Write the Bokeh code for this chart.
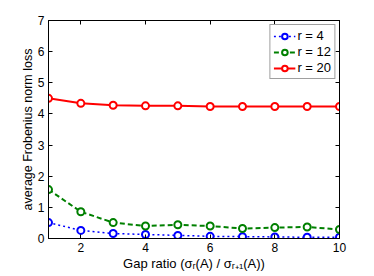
from bokeh.plotting import figure
from bokeh.models import Range1d, LinearAxis, FixedTicker, Legend
from bokeh.embed import file_html
from bokeh.resources import INLINE

gap = [1, 2, 3, 4, 5, 6, 7, 8, 9, 10]
r4 = [0.51, 0.26, 0.16, 0.13, 0.10, 0.07, 0.06, 0.05, 0.04, 0.04]
r12 = [1.57, 0.86, 0.51, 0.40, 0.44, 0.40, 0.32, 0.35, 0.37, 0.29]
r20 = [4.50, 4.34, 4.28, 4.26, 4.26, 4.24, 4.24, 4.24, 4.24, 4.24]
xticks = [2, 4, 6, 8, 10]
yticks = [0, 1, 2, 3, 4, 5, 6, 7]

FONT = "Liberation Sans"

p = figure(width=366, height=276, output_backend="svg", toolbar_location=None,
           x_range=Range1d(1, 10), y_range=Range1d(0, 7),
           min_border_left=48, min_border_right=27, min_border_top=20, min_border_bottom=38)
p.grid.visible = False
p.outline_line_color = "black"
p.outline_line_width = 1
p.background_fill_color = "white"
p.border_fill_color = "white"

for ax in (p.xaxis[0], p.yaxis[0]):
    ax.major_tick_in = 4
    ax.major_tick_out = 0
    ax.minor_tick_line_color = None
    ax.major_label_text_font = FONT
    ax.major_label_text_font_size = "12px"
    ax.major_label_text_color = "black"
    ax.axis_label_text_font = FONT
    ax.axis_label_text_font_size = "12.5px"
    ax.axis_label_text_font_style = "normal"
    ax.axis_label_text_color = "black"
    ax.axis_line_color = "black"
    ax.major_tick_line_color = "black"

p.xaxis.ticker = FixedTicker(ticks=xticks)
p.yaxis.ticker = FixedTicker(ticks=yticks)
p.xaxis.major_label_standoff = 4
p.yaxis.major_label_standoff = 4
p.xaxis.axis_label = "Gap ratio (σᵣ(A) / σᵣ₊₁(A))"
p.xaxis.axis_label_text_font_size = "13px"
p.yaxis.axis_label = "average Frobenius norm loss"
p.xaxis.axis_label_standoff = 1
p.yaxis.axis_label_standoff = 0

# box ticks on top and right
top = LinearAxis(ticker=FixedTicker(ticks=xticks), major_tick_in=4, major_tick_out=0,
                 minor_tick_line_color=None, major_label_text_font_size="0px",
                 major_label_text_alpha=0, axis_line_color="black")
right = LinearAxis(ticker=FixedTicker(ticks=yticks), major_tick_in=4, major_tick_out=0,
                   minor_tick_line_color=None, major_label_text_font_size="0px",
                   major_label_text_alpha=0, axis_line_color="black")
p.add_layout(top, "above")
p.add_layout(right, "right")

blue = "#0000ff"
green = "#008000"
red = "#ff0000"

l1 = p.line(gap, r4, line_color=blue, line_width=1.5, line_dash="2 3")
c1 = p.scatter(gap, r4, marker="circle", size=7, fill_color="white", line_color=blue, line_width=2)
l2 = p.line(gap, r12, line_color=green, line_width=2, line_dash="5 3")
c2 = p.scatter(gap, r12, marker="circle", size=7, fill_color="white", line_color=green, line_width=2)
l3 = p.line(gap, r20, line_color=red, line_width=2)
c3 = p.scatter(gap, r20, marker="circle", size=7, fill_color="white", line_color=red, line_width=2)

legend = Legend(items=[("r = 4", [l1, c1]), ("r = 12", [l2, c2]), ("r = 20", [l3, c3])],
                location="top_right")
legend.label_text_font = FONT
legend.label_text_font_size = "13px"
legend.label_text_color = "black"
legend.border_line_color = "#404040"
legend.border_line_width = 1.5
legend.glyph_width = 22
legend.glyph_height = 14
legend.label_height = 14
legend.label_width = 10
legend.spacing = 1
legend.padding = 3
legend.margin = 4
legend.label_standoff = 2
legend.background_fill_color = "white"
p.add_layout(legend)

open("out.html", "w").write(file_html(p, INLINE))
